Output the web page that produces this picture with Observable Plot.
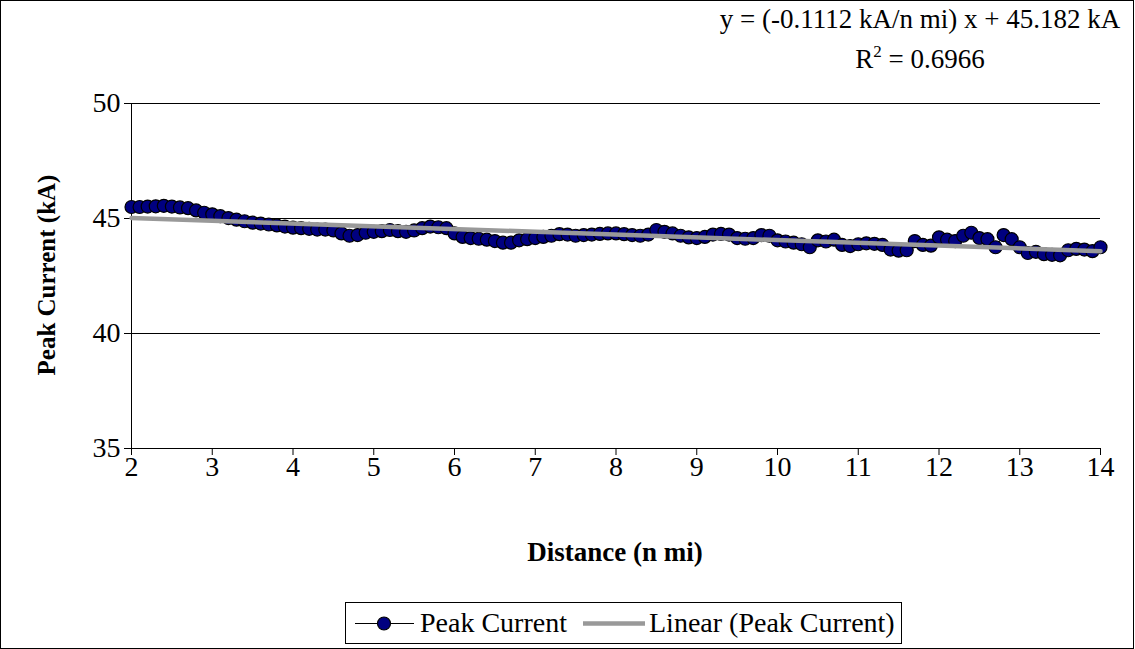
<!DOCTYPE html>
<html><head><meta charset="utf-8">
<script src="https://cdn.jsdelivr.net/npm/d3@7"></script>
<script src="https://cdn.jsdelivr.net/npm/@observablehq/plot@0.6"></script>
<style>
body{margin:0;background:#fff;}
#wrap{position:relative;width:1135px;height:649px;overflow:hidden;font-family:"Liberation Serif","Times New Roman",serif;color:#000;}
#border{position:absolute;left:0;top:0;width:1134px;height:649px;box-sizing:border-box;border:1px solid #000;pointer-events:none;}
#chart{position:absolute;left:0;top:0;}
.eq{position:absolute;left:620px;width:600px;text-align:center;font-size:27px;line-height:30px;white-space:nowrap;}
.ylab{position:absolute;left:47px;top:275px;transform:translate(-50%,-50%) rotate(-90deg);font-size:25px;font-weight:bold;white-space:nowrap;}
.xlab{position:absolute;left:615px;top:552px;transform:translate(-50%,-50%);font-size:27px;font-weight:bold;white-space:nowrap;}
#legend{position:absolute;left:345px;top:602px;width:557px;height:42px;box-sizing:border-box;border:1px solid #000;background:#fff;font-size:28px;}
#legend span{position:absolute;top:0;line-height:40px;white-space:nowrap;}
#legend svg{position:absolute;left:0;top:0;}
</style></head><body>
<div id="wrap">
  <div id="chart"></div>
  <div class="eq" id="eq1" style="top:4px"></div>
  <div class="eq" id="eq2" style="top:44px"></div>
  <div class="ylab" id="ylab"></div>
  <div class="xlab" id="xlab"></div>
  <div id="legend"></div>
  <div id="border"></div>
</div>
<script>
// ---- data ----
const distance = [2.0,2.1,2.2,2.3,2.4,2.5,2.6,2.7,2.8,2.9,
3.0,3.1,3.2,3.3,3.4,3.5,3.6,3.7,3.8,3.9,
4.0,4.1,4.2,4.3,4.4,4.5,4.6,4.7,4.8,4.9,
5.0,5.1,5.2,5.3,5.4,5.5,5.6,5.7,5.8,5.9,
6.0,6.1,6.2,6.3,6.4,6.5,6.6,6.7,6.8,6.9,
7.0,7.1,7.2,7.3,7.4,7.5,7.6,7.7,7.8,7.9,
8.0,8.1,8.2,8.3,8.4,8.5,8.6,8.7,8.8,8.9,
9.0,9.1,9.2,9.3,9.4,9.5,9.6,9.7,9.8,9.9,
10.0,10.1,10.2,10.3,10.4,10.5,10.6,10.7,10.8,10.9,
11.0,11.1,11.2,11.3,11.4,11.5,11.6,11.7,11.8,11.9,
12.0,12.1,12.2,12.3,12.4,12.5,12.6,12.7,12.8,12.9,
13.0,13.1,13.2,13.3,13.4,13.5,13.6,13.7,13.8,13.9,
14.0];
const peakCurrent = [45.50,45.50,45.52,45.53,45.55,45.52,45.48,45.45,45.35,45.25,
45.18,45.10,45.02,44.95,44.88,44.82,44.78,44.74,44.70,44.65,
44.60,44.58,44.55,44.52,44.52,44.48,44.35,44.25,44.28,44.38,
44.42,44.45,44.50,44.45,44.42,44.48,44.58,44.65,44.62,44.58,
44.35,44.20,44.15,44.12,44.08,44.02,43.95,43.95,44.05,44.10,
44.15,44.20,44.25,44.32,44.30,44.25,44.28,44.30,44.33,44.35,
44.35,44.32,44.28,44.25,44.30,44.50,44.42,44.35,44.25,44.18,
44.15,44.20,44.30,44.33,44.30,44.15,44.12,44.15,44.28,44.25,
44.05,44.00,43.95,43.88,43.75,44.05,44.00,44.08,43.85,43.80,
43.88,43.92,43.90,43.85,43.65,43.60,43.62,44.02,43.85,43.82,
44.18,44.08,44.02,44.25,44.38,44.15,44.10,43.75,44.28,44.10,
43.75,43.50,43.55,43.45,43.42,43.40,43.62,43.68,43.65,43.58,
43.75];
const xTicks = [2,3,4,5,6,7,8,9,10,11,12,13,14];
const yTicks = [35,40,45,50];
const gridValues = [40,45,50];
const xDomain = [2,14];
const yDomain = [35,50];
const seriesName = "Peak Current";
const trendName = "Linear (Peak Current)";
const equationLine1 = "y = (-0.1112 kA/n mi) x + 45.182 kA";
const r2Value = "0.6966";
const xTitle = "Distance (n mi)";
const yTitle = "Peak Current (kA)";

const table = distance.map((d, i) => ({distance: d, current: peakCurrent[i]}));

const markerFill = "#000080";
const trendColor = "#999999";

const chart = Plot.plot({
  width: 1135,
  height: 500,
  marginLeft: 131,
  marginRight: 35,
  marginTop: 103,
  marginBottom: 52,
  style: {fontFamily: '"Liberation Serif","Times New Roman",serif', fontSize: "28px", color: "#000", background: "transparent"},
  x: {domain: xDomain, ticks: xTicks, label: null},
  y: {domain: yDomain, ticks: yTicks, label: null},
  marks: [
    Plot.gridY(gridValues, {stroke: "#000", strokeOpacity: 1, strokeWidth: 1}),
    Plot.ruleY([yDomain[0]], {stroke: "#000", strokeWidth: 1}),
    Plot.ruleX([xDomain[0]], {stroke: "#000", strokeWidth: 1}),
    Plot.axisX({ticks: xTicks, tickSize: 7, tickPadding: 1, tickFormat: d => String(d), fontSize: 28, label: null}),
    Plot.axisY({ticks: yTicks, tickSize: 7, tickPadding: 4, tickFormat: d => String(d), fontSize: 28, label: null}),
    Plot.line(table, {x: "distance", y: "current", stroke: "#000", strokeWidth: 1}),
    Plot.dot(table, {x: "distance", y: "current", r: 6.5, fill: markerFill, stroke: "#000", strokeWidth: 1.2}),
    Plot.linearRegressionY(table, {x: "distance", y: "current", stroke: trendColor, strokeWidth: 4.5, ci: 0})
  ]
});
document.getElementById("chart").appendChild(chart);

document.getElementById("eq1").textContent = equationLine1;
document.getElementById("eq2").innerHTML = 'R<sup style="font-size:17px;vertical-align:11px;line-height:0">2</sup> = ' + r2Value;
document.getElementById("xlab").textContent = xTitle;
document.getElementById("ylab").textContent = yTitle;

const lg = document.getElementById("legend");
lg.innerHTML = `<svg width="557" height="42">
  <line x1="9" x2="68" y1="20.5" y2="20.5" stroke="#000" stroke-width="1"/>
  <circle cx="38" cy="20.5" r="6.5" fill="${markerFill}" stroke="#000" stroke-width="1.2"/>
  <line x1="237" x2="299" y1="20.5" y2="20.5" stroke="${trendColor}" stroke-width="4.5"/>
</svg>
<span style="left:74px">${seriesName}</span>
<span style="left:303px">${trendName}</span>`;
</script>
</body></html>
